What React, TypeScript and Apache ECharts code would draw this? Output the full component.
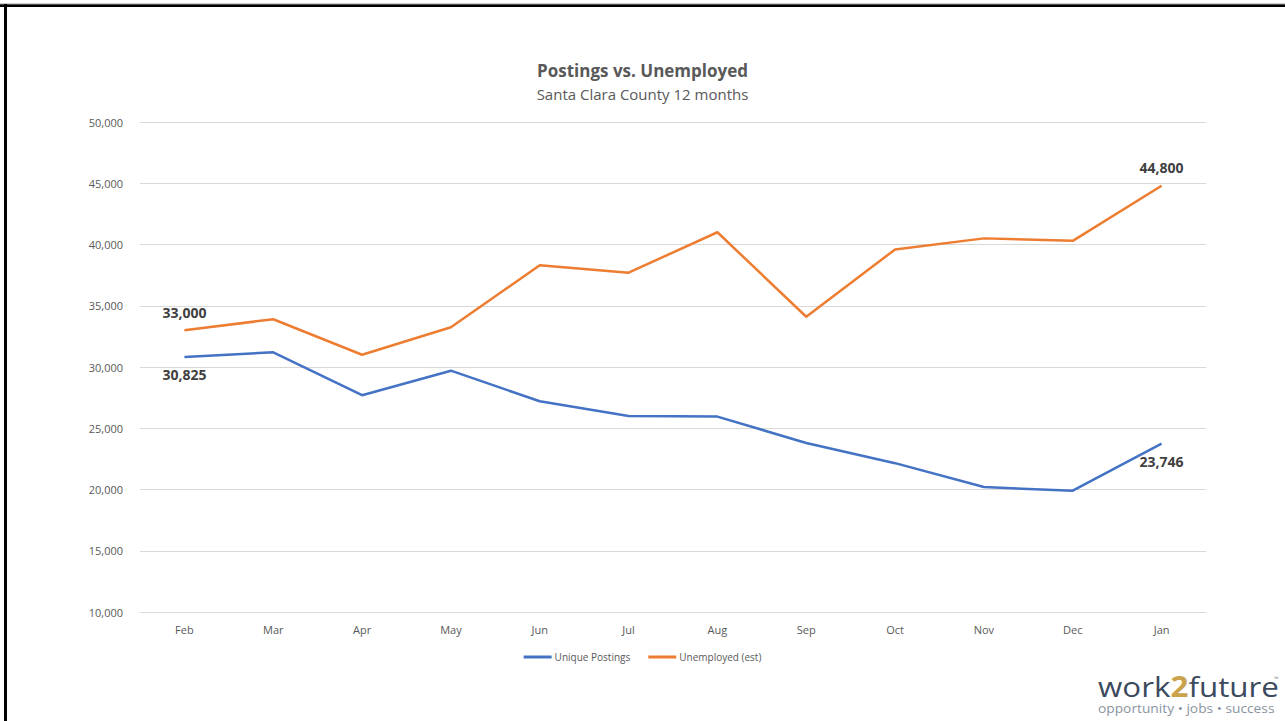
import React, { useEffect, useRef } from "react";
import * as echarts from "echarts";

const months = ["Feb", "Mar", "Apr", "May", "Jun", "Jul", "Aug", "Sep", "Oct", "Nov", "Dec", "Jan"];
const uniquePostings = [30825, 31200, 27700, 29700, 27200, 26000, 25950, 23800, 22150, 20200, 19900, 23746];
const unemployed = [33000, 33900, 31000, 33250, 38300, 37700, 41000, 34100, 39600, 40500, 40300, 44800];
const yTicks = { min: 10000, max: 50000, interval: 5000 };

const FONT = "'Open Sans', 'Noto Sans', sans-serif";

export default function App() {
  const ref = useRef<HTMLDivElement>(null);
  useEffect(() => {
    document.body.style.margin = "0";
    const chart = echarts.init(ref.current!, undefined, { renderer: "svg" });
    const lastIdx = months.length - 1;
    const labelFor = (pos: "top" | "bottom") => ({
      show: true,
      position: pos,
      distance: 11,
      fontFamily: FONT,
      fontSize: 14,
      fontWeight: "bold" as const,
      color: "#404040",
      formatter: (p: any) =>
        p.dataIndex === 0 || p.dataIndex === lastIdx ? Number(p.value).toLocaleString("en-US") : "",
    });
    chart.setOption({
      animation: false,
      backgroundColor: "#ffffff",
      textStyle: { fontFamily: FONT },
      title: {
        text: "Postings vs. Unemployed",
        subtext: "Santa Clara County 12 months",
        left: "center",
        top: 57,
        itemGap: 7,
        textStyle: { fontFamily: FONT, fontSize: 17, fontWeight: "bold", color: "#595959" },
        subtextStyle: { fontFamily: FONT, fontSize: 15, color: "#595959" },
      },
      legend: {
        bottom: 54,
        left: "center",
        itemWidth: 28,
        itemHeight: 3,
        itemGap: 18,
        icon: "rect",
        textStyle: { fontFamily: FONT, fontSize: 10, color: "#595959", padding: [0, 0, 0, -2] },
        data: ["Unique Postings", "Unemployed (est)"],
      },
      grid: { left: 140, right: 79, top: 122, bottom: 109, containLabel: false },
      xAxis: {
        type: "category",
        data: months,
        boundaryGap: true,
        axisLine: { show: true, lineStyle: { color: "#d9d9d9" } },
        axisTick: { show: false },
        axisLabel: { fontFamily: FONT, fontSize: 11, color: "#595959", margin: 12 },
      },
      yAxis: {
        type: "value",
        min: yTicks.min,
        max: yTicks.max,
        interval: yTicks.interval,
        axisLine: { show: false },
        axisTick: { show: false },
        splitLine: { lineStyle: { color: "#d9d9d9", width: 1 } },
        axisLabel: {
          fontFamily: FONT,
          fontSize: 11,
          color: "#595959",
          margin: 17,
          formatter: (v: number) => v.toLocaleString("en-US"),
        },
      },
      series: [
        {
          name: "Unique Postings",
          type: "line",
          data: uniquePostings,
          showSymbol: true,
          symbol: "circle",
          symbolSize: 0.01,
          lineStyle: { color: "#4472C4", width: 2.5 },
          itemStyle: { color: "#4472C4" },
          label: labelFor("bottom"),
        },
        {
          name: "Unemployed (est)",
          type: "line",
          data: unemployed,
          showSymbol: true,
          symbol: "circle",
          symbolSize: 0.01,
          lineStyle: { color: "#ED7D31", width: 2.5 },
          itemStyle: { color: "#ED7D31" },
          label: labelFor("top"),
        },
      ],
      graphic: [
        { type: "line", shape: { x1: 0, y1: 5.5, x2: 1285, y2: 5.5 }, style: { stroke: "#000", lineWidth: 3 } },
        { type: "line", shape: { x1: 0, y1: 4, x2: 1285, y2: 4 }, style: { stroke: "#999", lineWidth: 1 } },
        { type: "line", shape: { x1: 5.5, y1: 4, x2: 5.5, y2: 721 }, style: { stroke: "#000", lineWidth: 3 } },
        {
          type: "group",
          x: 1098,
          y: 672,
          scaleX: 1.12,
          children: [
            {
              type: "text",
              x: 0,
              y: 0,
              style: {
                rich: {
                  a: { fontFamily: FONT, fontSize: 28, lineHeight: 28, fill: "#3b4a5d", fontWeight: "normal" },
                  b: { fontFamily: FONT, fontSize: 28, lineHeight: 28, fill: "#c9a24b", fontWeight: "bold" },
                },
                text: "{a|work}{b|2}{a|future}",
              },
            },
          ],
        },
        {
          type: "text",
          x: 1274,
          y: 676,
          style: { text: "™", fontFamily: FONT, fontSize: 6, fill: "#8a94a0" },
        },
        {
          type: "group",
          x: 1098,
          y: 702,
          scaleX: 1.06,
          children: [
            {
              type: "text",
              x: 0,
              y: 0,
              style: {
                text: "opportunity • jobs • success",
                fontFamily: FONT,
                fontSize: 13,
                lineHeight: 13,
                fill: "#8a94a0",
              },
            },
          ],
        },
      ],
    });
    return () => chart.dispose();
  }, []);
  return <div ref={ref} style={{ width: 1285, height: 721, position: "fixed", left: 0, top: 0 }} />;
}
